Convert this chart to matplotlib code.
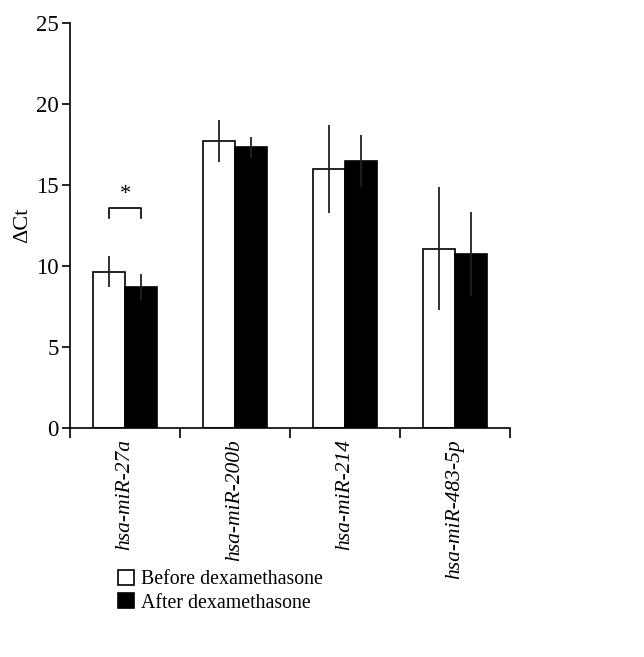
import numpy as np
import matplotlib
matplotlib.use('Agg')
import matplotlib.pyplot as plt
import matplotlib.patches as mpatches

plt.rcParams['font.family'] = ['Liberation Serif', 'DejaVu Serif']

# Data
mirnas = ['hsa-miR-27a', 'hsa-miR-200b', 'hsa-miR-214', 'hsa-miR-483-5p']
before_mean = [9.65, 17.7, 16.0, 11.07]
before_err = [0.95, 1.3, 2.7, 3.8]
after_mean = [8.72, 17.33, 16.5, 10.74]
after_err = [0.8, 0.65, 1.6, 2.6]
series_labels = ['Before dexamethasone', 'After dexamethasone']

fig = plt.figure(figsize=(6.44, 6.57), dpi=100)
ax = fig.add_axes([0.1087, 0.3486, 0.6833, 0.6164])

x = np.arange(len(mirnas))
w = 0.29

ax.bar(x - w / 2, before_mean, w, color='white', edgecolor='black', linewidth=1.2)
ax.bar(x + w / 2, after_mean, w, color='black', edgecolor='black', linewidth=1.2)
ax.errorbar(x - w / 2, before_mean, yerr=before_err, fmt='none',
            ecolor='#222222', elinewidth=1.3, capsize=0)
ax.errorbar(x + w / 2, after_mean, yerr=after_err, fmt='none',
            ecolor='#222222', elinewidth=1.3, capsize=0)

# significance bracket on first pair
bx0, bx1 = x[0] - w / 2, x[0] + w / 2
ax.plot([bx0, bx0, bx1, bx1], [12.95, 13.6, 13.6, 12.95], color='black', lw=1.2)
ax.text(x[0], 13.85, '*', ha='center', va='bottom', fontsize=16)

ax.set_xlim(-0.5, len(mirnas) - 0.5)
ax.set_ylim(0, 25)
ax.set_yticks([0, 5, 10, 15, 20, 25])
ax.set_ylabel('ΔCt', fontsize=16)
ax.yaxis.set_label_coords(-0.085, 0.5)

ax.set_xticks(x)
ax.set_xticklabels(mirnas, rotation=90, style='italic', fontsize=15.5)
ax.tick_params(axis='x', which='major', length=0, pad=8)
ax.set_xticks(np.arange(-0.5, len(mirnas)), minor=True)
ax.tick_params(axis='x', which='minor', length=7, width=1.2, direction='out')
ax.tick_params(axis='y', labelsize=16.5, length=6, width=1.2, direction='out', pad=2)

for side in ['top', 'right']:
    ax.spines[side].set_visible(False)
for side in ['left', 'bottom']:
    ax.spines[side].set_linewidth(1.2)

handles = [mpatches.Patch(facecolor='white', edgecolor='black', linewidth=1.2),
           mpatches.Patch(facecolor='black', edgecolor='black', linewidth=1.2)]
fig.legend(handles, series_labels, loc='upper left', bbox_to_anchor=(0.171, 0.145),
           frameon=False, fontsize=14.3, handlelength=0.8, handleheight=0.8,
           handletextpad=0.35, labelspacing=0.2, borderaxespad=0)

plt.savefig('out.png', dpi=100)
